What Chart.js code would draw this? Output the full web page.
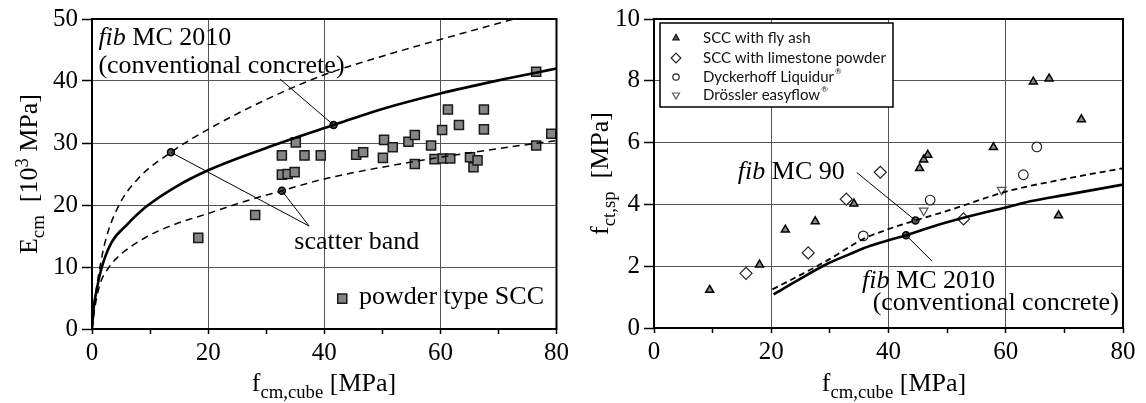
<!DOCTYPE html>
<html lang="en">
<head>
<meta charset="UTF-8">
<title>SCC - modulus of elasticity and splitting tensile strength</title>
<script src="https://cdn.jsdelivr.net/npm/chart.js@4.4.1/dist/chart.umd.min.js"></script>
<style>
    body { margin: 0; background: #fff; }
    .wrap { position: relative; width: 1146px; height: 403px; }
    canvas { position: absolute; top: 0; }
    #left { left: 0; }
    #right { left: 573px; }
</style>
</head>
<body>
<div class="wrap">
    <canvas id="left" width="573" height="403"></canvas>
    <canvas id="right" width="573" height="403"></canvas>
</div>
<script>
// ---- left chart: E_cm vs f_cm,cube ----
const xTicks = [0, 20, 40, 60, 80];
const eTicks = [0, 10, 20, 30, 40, 50];
const powderX = [18.3, 28.1, 32.7, 33.7, 34.9, 32.7, 35.1, 36.6, 39.4, 45.5, 46.7, 50.1, 50.3, 51.8, 54.5, 55.6, 55.6, 58.4, 59.0, 60.3, 60.4, 61.3, 61.7, 63.2, 65.1, 65.7, 66.4, 67.5, 67.5, 76.5, 76.5, 79.1];
const powderY = [14.7, 18.4, 24.9, 25.0, 25.3, 28.0, 30.1, 28.0, 28.0, 28.1, 28.5, 27.6, 30.5, 29.3, 30.2, 31.3, 26.6, 29.6, 27.4, 32.1, 27.5, 35.4, 27.5, 32.9, 27.7, 26.1, 27.2, 35.4, 32.2, 29.6, 41.5, 31.5];
const mc2010X = [0, 0.3, 0.8, 1.7, 3.4, 6, 9.3, 14, 20, 30, 41.6, 50, 60, 70, 80];
const mc2010Y = [0, 3.5, 6.3, 10, 14, 16.8, 19.7, 22.7, 25.6, 29.2, 32.9, 35.5, 38.0, 40.1, 42.0];
const upperX = [0, 0.4, 0.8, 2.2, 4.5, 8, 13.6, 20, 30, 40, 50, 60, 70, 73.5];
const upperY = [0, 4, 6.8, 13.8, 19.7, 24.3, 28.5, 32.2, 37.0, 41.0, 44.0, 46.7, 49.3, 50.2];
const lowerX = [0, 0.5, 1.4, 2.8, 4.8, 9.3, 14, 19.9, 26.7, 32.7, 40, 50, 60, 70, 80];
const lowerY = [0, 3.5, 7.3, 9.8, 11.9, 14.8, 16.8, 18.6, 20.7, 22.3, 24.2, 26.1, 27.7, 29.1, 30.4];
const leftMarkX = [13.6, 32.7, 41.6];
const leftMarkY = [28.5, 22.3, 32.9];
// pointer lines: [x0, x1], [y0, y1]
const convPtrX = [32.4, 41.6], convPtrY = [40.3, 32.9];
const band1X = [13.6, 37.4], band1Y = [28.5, 16.6];
const band2X = [32.7, 37.4], band2Y = [22.3, 16.6];

// ---- right chart: f_ct,sp vs f_cm,cube ----
const fTicks = [0, 2, 4, 6, 8, 10];
const flyAshX = [9.5, 18.0, 22.4, 27.5, 34.1, 45.3, 46.0, 46.7, 57.9, 64.7, 67.4, 69.0, 72.9];
const flyAshY = [1.23, 2.05, 3.18, 3.45, 4.02, 5.17, 5.45, 5.6, 5.85, 7.97, 8.07, 3.64, 6.75];
const limeX = [15.7, 26.3, 32.8, 38.6, 52.8];
const limeY = [1.77, 2.43, 4.17, 5.04, 3.53];
const dyckX = [35.7, 47.1, 63.0, 65.3];
const dyckY = [2.98, 4.14, 4.96, 5.86];
const droeX = [46.0, 59.3];
const droeY = [3.8, 4.47];
const mc90X = [20.2, 25, 29.5, 35.7, 40, 44.6, 50.5, 60.2, 70, 80];
const mc90Y = [1.25, 1.72, 2.18, 2.88, 3.2, 3.48, 3.82, 4.42, 4.82, 5.17];
const mc10X = [20.4, 25, 29.5, 33.4, 36.9, 40, 43, 48.8, 52.8, 60.2, 64.2, 70, 80];
const mc10Y = [1.09, 1.6, 2.07, 2.39, 2.66, 2.84, 3.0, 3.36, 3.57, 3.91, 4.1, 4.3, 4.64];
const rightMarkX = [44.6, 43.0];
const rightMarkY = [3.48, 3.0];
const mc90PtrX = [34.6, 44.6], mc90PtrY = [5.03, 3.48];
const mc10PtrX = [43.0, 47.4], mc10PtrY = [3.0, 2.17];

const SERIF = '"Liberation Serif", "Times New Roman", serif';
const GRID = '#555';
const TXT = 26;

const pts = (xs, ys) => xs.map((x, i) => ({ x: x, y: ys[i] }));

function curve(xs, ys, width, dash) {
    return {
        data: pts(xs, ys), borderColor: '#000', borderWidth: width, borderDash: dash || [],
        pointRadius: 0, showLine: true, cubicInterpolationMode: 'monotone', fill: false
    };
}

function pointer(xs, ys) {
    return { data: pts(xs, ys), borderColor: '#000', borderWidth: 1, pointRadius: 0, showLine: true };
}

function marks(xs, ys) {
    return {
        data: pts(xs, ys), showLine: false, pointStyle: 'circle', pointRadius: 3.5,
        backgroundColor: '#555', borderColor: '#000', borderWidth: 1.5, clip: false
    };
}

function scales(xMax, yMax, yStep, yWidth, xHeight, yTickList) {
    return {
        x: {
            type: 'linear', min: 0, max: xMax,
            border: { display: false },
            grid: {
                color: c => (c.tick && xTicks.includes(c.tick.value)) ? GRID : 'rgba(0,0,0,0)',
                tickColor: '#000', tickLength: 5, tickWidth: 1.5, lineWidth: 1
            },
            ticks: {
                stepSize: 10, autoSkip: false, maxRotation: 0, padding: 4, color: '#000',
                font: { family: SERIF, size: 25 },
                callback: v => xTicks.includes(v) ? v : ''
            },
            afterFit: s => { s.height = xHeight; }
        },
        y: {
            type: 'linear', min: 0, max: yMax,
            border: { display: false },
            grid: { color: GRID, tickColor: '#000', tickLength: 10, tickWidth: 1.5, lineWidth: 1 },
            ticks: {
                stepSize: yStep, padding: 4, color: '#000', font: { family: SERIF, size: 25 },
                callback: v => yTickList.includes(v) ? v : ''
            },
            afterFit: s => { s.width = yWidth; }
        }
    };
}

// rich text: parts [{t, it, sub, sup}]
function richWidth(ctx, parts, size) {
    let w = 0;
    parts.forEach(p => {
        const fs = p.sub || p.sup ? size * 0.72 : size;
        ctx.font = (p.it ? 'italic ' : '') + fs + 'px ' + SERIF;
        w += ctx.measureText(p.t).width;
    });
    return w;
}

function drawRich(ctx, parts, x, y, size, align) {
    let cx = x;
    const w = richWidth(ctx, parts, size);
    if (align === 'center') cx = x - w / 2;
    if (align === 'right') cx = x - w;
    ctx.textAlign = 'left';
    ctx.textBaseline = 'alphabetic';
    parts.forEach(p => {
        const fs = p.sub || p.sup ? size * 0.72 : size;
        ctx.font = (p.it ? 'italic ' : '') + fs + 'px ' + SERIF;
        const dy = p.sub ? size * 0.26 : (p.sup ? -size * 0.36 : 0);
        ctx.fillText(p.t, cx, y + dy);
        cx += ctx.measureText(p.t).width;
    });
}

function frame(ctx, a) {
    ctx.strokeStyle = '#000';
    ctx.lineWidth = 2;
    ctx.strokeRect(a.left, a.top, a.right - a.left, a.bottom - a.top);
}

function marker(ctx, style, x, y, r, fill, stroke, lw) {
    ctx.beginPath();
    if (style === 'rect') {
        const s = r * Math.SQRT1_2;
        ctx.rect(x - s, y - s, 2 * s, 2 * s);
    } else if (style === 'circle') {
        ctx.arc(x, y, r, 0, Math.PI * 2);
    } else if (style === 'diamond') {
        ctx.moveTo(x, y - r); ctx.lineTo(x + r, y); ctx.lineTo(x, y + r); ctx.lineTo(x - r, y); ctx.closePath();
    } else if (style === 'tri' || style === 'triDown') {
        const d = style === 'tri' ? 1 : -1;
        const h = r * 0.5, w = r * Math.sqrt(3) / 2;
        ctx.moveTo(x, y - d * r); ctx.lineTo(x + w, y + d * h); ctx.lineTo(x - w, y + d * h); ctx.closePath();
    }
    if (fill) { ctx.fillStyle = fill; ctx.fill(); }
    ctx.strokeStyle = stroke; ctx.lineWidth = lw; ctx.stroke();
}

const leftDecor = {
    id: 'leftDecor',
    afterDraw(chart) {
        const { ctx, chartArea: a, scales: { x, y } } = chart;
        ctx.save();
        frame(ctx, a);
        ctx.fillStyle = '#000';
        drawRich(ctx, [{ t: 'fib', it: true }, { t: ' MC 2010' }], x.getPixelForValue(1.1), y.getPixelForValue(45.8), TXT, 'left');
        drawRich(ctx, [{ t: '(conventional concrete)' }], x.getPixelForValue(1.1), y.getPixelForValue(41.3), TXT, 'left');
        drawRich(ctx, [{ t: 'scatter band' }], x.getPixelForValue(45.6), y.getPixelForValue(12.9), TXT, 'center');
        // legend
        marker(ctx, 'rect', x.getPixelForValue(43.1), y.getPixelForValue(4.9), 6.4, '#858585', '#1a1a1a', 1.5);
        ctx.fillStyle = '#000';
        drawRich(ctx, [{ t: 'powder type SCC' }], x.getPixelForValue(46.0), y.getPixelForValue(4.1), TXT, 'left');
        // axis titles
        drawRich(ctx, [{ t: 'f' }, { t: 'cm,cube', sub: true }, { t: ' [MPa]' }], 324, 391, TXT, 'center');
        ctx.translate(37, (a.top + a.bottom) / 2);
        ctx.rotate(-Math.PI / 2);
        drawRich(ctx, [{ t: 'E' }, { t: 'cm', sub: true }, { t: '  [10' }, { t: '3', sup: true }, { t: ' MPa]' }], 0, 0, TXT, 'center');
        ctx.restore();
    }
};

const rightDecor = {
    id: 'rightDecor',
    afterDraw(chart) {
        const { ctx, chartArea: a, scales: { x, y } } = chart;
        ctx.save();
        frame(ctx, a);
        ctx.fillStyle = '#000';
        drawRich(ctx, [{ t: 'fib', it: true }, { t: ' MC 90' }], x.getPixelForValue(14.3), y.getPixelForValue(4.81), TXT, 'left');
        drawRich(ctx, [{ t: 'fib', it: true }, { t: ' MC 2010' }], x.getPixelForValue(35.5), y.getPixelForValue(1.28), TXT, 'left');
        drawRich(ctx, [{ t: '(conventional concrete)' }], x.getPixelForValue(37.3), y.getPixelForValue(0.58), TXT, 'left');
        // legend box
        const bx = a.left + 6, by = a.top + 4;
        ctx.fillStyle = '#fff';
        ctx.fillRect(bx, by, 233, 84);
        ctx.strokeStyle = '#000';
        ctx.lineWidth = 1.5;
        ctx.strokeRect(bx, by, 233, 84);
        const rows = [
            ['tri', 'SCC with fly ash', '', 3.6, '#555', '#111'],
            ['diamond', 'SCC with limestone powder', '', 4.8, '#fff', '#222'],
            ['circle', 'Dyckerhoff Liquidur', '\u00ae', 3.2, '#fff', '#222'],
            ['triDown', 'Dr\u00f6ssler easyflow', '\u00ae', 4, '#fff', '#555']
        ];
        const rowY = [15, 35, 54, 72];
        rows.forEach((r, i) => {
            marker(ctx, r[0], bx + 16, by + rowY[i], r[3], r[4], r[5], 1.2);
            ctx.fillStyle = '#111';
            ctx.font = '15px Lato, "Open Sans", sans-serif';
            ctx.textAlign = 'left';
            ctx.textBaseline = 'middle';
            ctx.fillText(r[1], bx + 43, by + rowY[i]);
            if (r[2]) {
                const w = ctx.measureText(r[1]).width;
                ctx.font = '8px Lato, sans-serif';
                ctx.fillText(r[2], bx + 44 + w, by + rowY[i] - 6);
            }
        });
        // axis titles
        ctx.fillStyle = '#000';
        drawRich(ctx, [{ t: 'f' }, { t: 'cm,cube', sub: true }, { t: ' [MPa]' }], 321, 391, TXT, 'center');
        ctx.translate(35, (a.top + a.bottom) / 2);
        ctx.rotate(-Math.PI / 2);
        drawRich(ctx, [{ t: 'f' }, { t: 'ct,sp', sub: true }, { t: '  [MPa]' }], 0, 0, TXT, 'center');
        ctx.restore();
    }
};

Chart.defaults.font.family = SERIF;

new Chart(document.getElementById('left'), {
    type: 'line',
    data: {
        datasets: [
            curve(upperX, upperY, 1.5, [7, 5]),
            curve(lowerX, lowerY, 1.5, [7, 5]),
            curve(mc2010X, mc2010Y, 2.6),
            pointer(convPtrX, convPtrY),
            pointer(band1X, band1Y),
            pointer(band2X, band2Y),
            marks(leftMarkX, leftMarkY),
            {
                label: 'powder type SCC', data: pts(powderX, powderY), showLine: false,
                pointStyle: 'rect', pointRadius: 6.4, backgroundColor: '#858585',
                borderColor: '#1a1a1a', borderWidth: 1.5, clip: false
            }
        ]
    },
    options: {
        responsive: false, animation: false,
        layout: { padding: { left: 0, right: 12, top: 18, bottom: 0 } },
        plugins: { legend: { display: false }, tooltip: { enabled: false } },
        scales: scales(80, 50, 10, 92, 74, eTicks)
    },
    plugins: [leftDecor]
});

new Chart(document.getElementById('right'), {
    type: 'line',
    data: {
        datasets: [
            curve(mc90X, mc90Y, 1.8, [6, 4]),
            curve(mc10X, mc10Y, 2.6),
            pointer(mc90PtrX, mc90PtrY),
            pointer(mc10PtrX, mc10PtrY),
            marks(rightMarkX, rightMarkY),
            {
                label: 'SCC with fly ash', data: pts(flyAshX, flyAshY), showLine: false,
                pointStyle: 'triangle', pointRadius: 4.6, backgroundColor: '#8a8a8a',
                borderColor: '#000', borderWidth: 1.5, clip: false
            },
            {
                label: 'SCC with limestone powder', data: pts(limeX, limeY), showLine: false,
                pointStyle: 'rectRot', pointRadius: 6, backgroundColor: '#fff',
                borderColor: '#222', borderWidth: 1.2, clip: false
            },
            {
                label: 'Dyckerhoff Liquidur', data: pts(dyckX, dyckY), showLine: false,
                pointStyle: 'circle', pointRadius: 4.8, backgroundColor: '#fff',
                borderColor: '#222', borderWidth: 1.2, clip: false
            },
            {
                label: 'Dr\u00f6ssler easyflow', data: pts(droeX, droeY), showLine: false,
                pointStyle: 'triangle', rotation: 180, pointRotation: 180, pointRadius: 5,
                backgroundColor: 'rgba(255,255,255,0)', borderColor: '#555', borderWidth: 1.2, clip: false
            }
        ]
    },
    options: {
        responsive: false, animation: false,
        layout: { padding: { left: 0, right: 23, top: 16, bottom: 0 } },
        plugins: { legend: { display: false }, tooltip: { enabled: false } },
        scales: scales(80, 10, 2, 81, 75, fTicks)
    },
    plugins: [rightDecor]
});
</script>
</body>
</html>
